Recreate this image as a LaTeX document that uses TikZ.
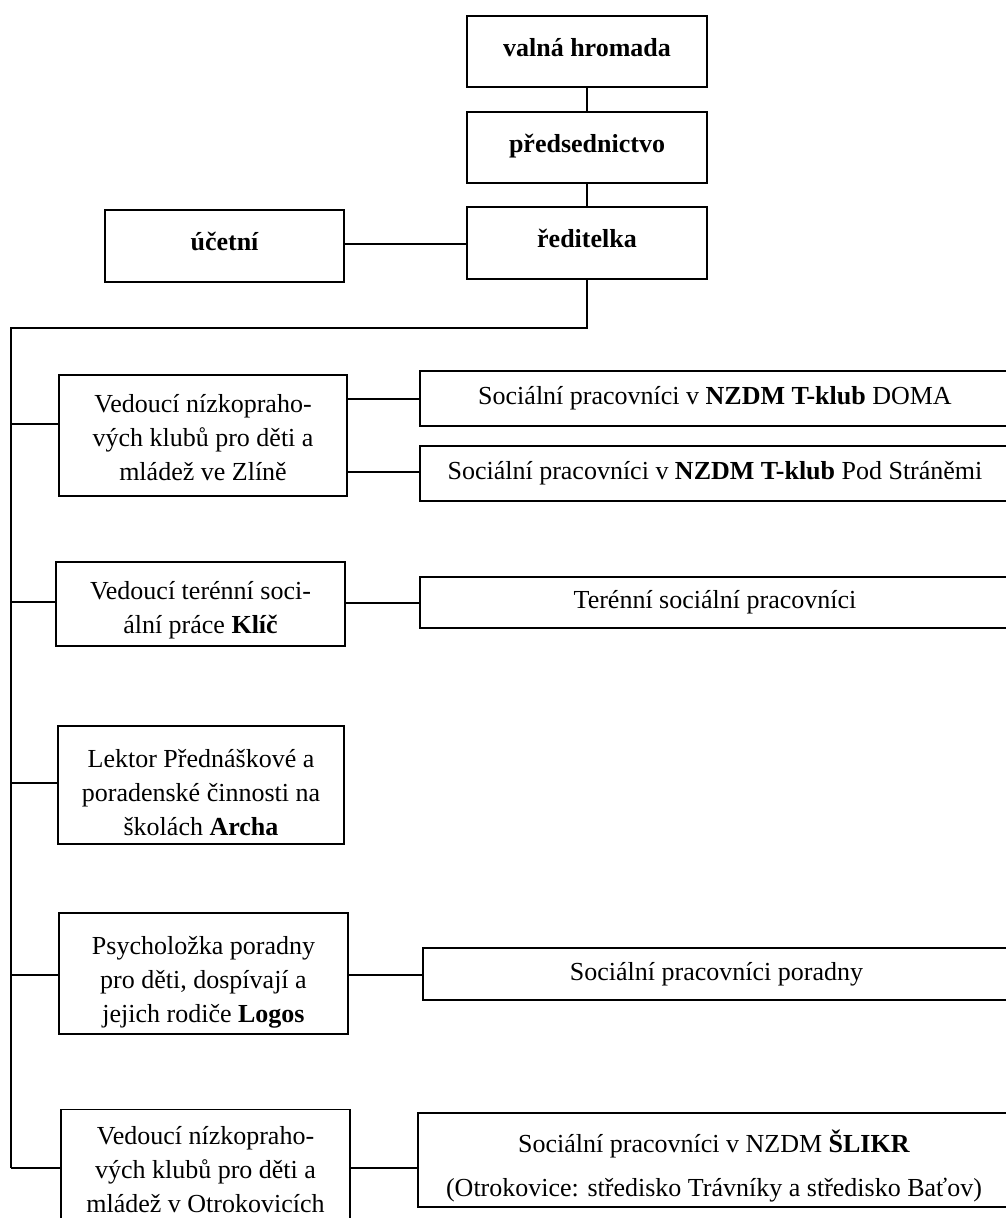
\documentclass[tikz,border=0pt]{standalone}
\usepackage{fontspec}
\setmainfont{Liberation Serif}
\newcommand{\upstrut}[1]{\rule{0pt}{#1}}
\newcommand{\downstrut}{\rule[-9pt]{0pt}{9pt}}
\begin{document}
\begin{tikzpicture}[x=1pt,y=-1pt,
  box/.style={draw, line width=1.8pt, inner sep=0pt, align=center,
    font=\fontsize{26}{34}\selectfont},
  boldbox/.style={box, font=\fontsize{26}{34}\selectfont\bfseries},
  conn/.style={line width=1.6pt}]
\useasboundingbox (0,0) rectangle (1006,1218);
% top
\node[boldbox, minimum width=240pt, minimum height=71pt] (valna) at (587,51.5) {valná hromada\downstrut};
\node[boldbox, minimum width=240pt, minimum height=71pt] (predsed) at (587,147.5) {předsednictvo\downstrut};
\node[boldbox, minimum width=240pt, minimum height=72pt] (reditelka) at (587,243) {ředitelka\downstrut};
\node[boldbox, minimum width=239pt, minimum height=72pt] (ucetni) at (224.5,246) {účetní\downstrut};
% left column
\node[box, minimum width=288pt, minimum height=121pt] (zlin) at (203,435.5)
  {\upstrut{22pt}Vedoucí nízkopraho-\\vých klubů pro děti a\\mládež ve Zlíně};
\node[box, minimum width=289pt, minimum height=84pt] (klic) at (200.5,604)
  {\upstrut{30pt}Vedoucí terénní soci-\\ální práce \textbf{Klíč}};
\node[box, minimum width=286pt, minimum height=118pt] (archa) at (201,785)
  {\upstrut{33pt}Lektor Přednáškové a\\poradenské činnosti na\\školách \textbf{Archa}};
\node[box, minimum width=289pt, minimum height=121pt] (logos) at (203.5,973.5)
  {\upstrut{36pt}Psycholožka poradny\\pro děti, dospívají a\\jejich rodiče \textbf{Logos}};
\node[box, minimum width=289pt, minimum height=121pt] (otro) at (205.5,1170)
  {Vedoucí nízkopraho-\\vých klubů pro děti a\\mládež v Otrokovicích};
% right column
\node[box, minimum width=590pt, minimum height=55pt] (doma) at (715,398.5)
  {Sociální pracovníci v \textbf{NZDM T-klub} DOMA};
\node[box, minimum width=590pt, minimum height=55pt] (pod) at (715,473.5)
  {Sociální pracovníci v \textbf{NZDM T-klub} Pod Stráněmi};
\node[box, minimum width=590pt, minimum height=51pt] (teren) at (715,602.5)
  {Terénní sociální pracovníci};
\node[box, minimum width=587pt, minimum height=52pt] (poradny) at (716.5,974)
  {Sociální pracovníci poradny};
\node[box, minimum width=592pt, minimum height=94pt] (slikr) at (714,1160)
  {\upstrut{34pt}Sociální pracovníci v NZDM \textbf{ŠLIKR}\\[10pt](Otrokovice: středisko Trávníky a středisko Baťov)};
% connectors
\coordinate (turn) at (587,328);
\coordinate (bus) at (11,328);
\coordinate (sA) at (11,424);
\coordinate (sB) at (11,602);
\coordinate (sC) at (11,783);
\coordinate (sD) at (11,975);
\coordinate (trunkend) at (11,1168);
\draw[conn] (valna) -- (predsed);
\draw[conn] (predsed) -- (reditelka);
\draw[conn] (reditelka.west |- 0,244) -- (ucetni.east |- 0,244);
\draw[conn] (reditelka.south) -- (turn) -- (bus) -- (trunkend);
\draw[conn] (sA) -- (sA -| zlin.west);
\draw[conn] (sB) -- (sB -| klic.west);
\draw[conn] (sC) -- (sC -| archa.west);
\draw[conn] (sD) -- (sD -| logos.west);
\draw[conn] (trunkend) -- (trunkend -| otro.west);
\draw[conn] (zlin.east |- 0,399) -- (doma.west |- 0,399);
\draw[conn] (zlin.east |- 0,472) -- (pod.west |- 0,472);
\draw[conn] (klic.east |- 0,603) -- (teren.west |- 0,603);
\draw[conn] (logos.east |- 0,975) -- (poradny.west |- 0,975);
\draw[conn] (otro.east |- trunkend) -- (slikr.west |- trunkend);
\end{tikzpicture}
\end{document}
